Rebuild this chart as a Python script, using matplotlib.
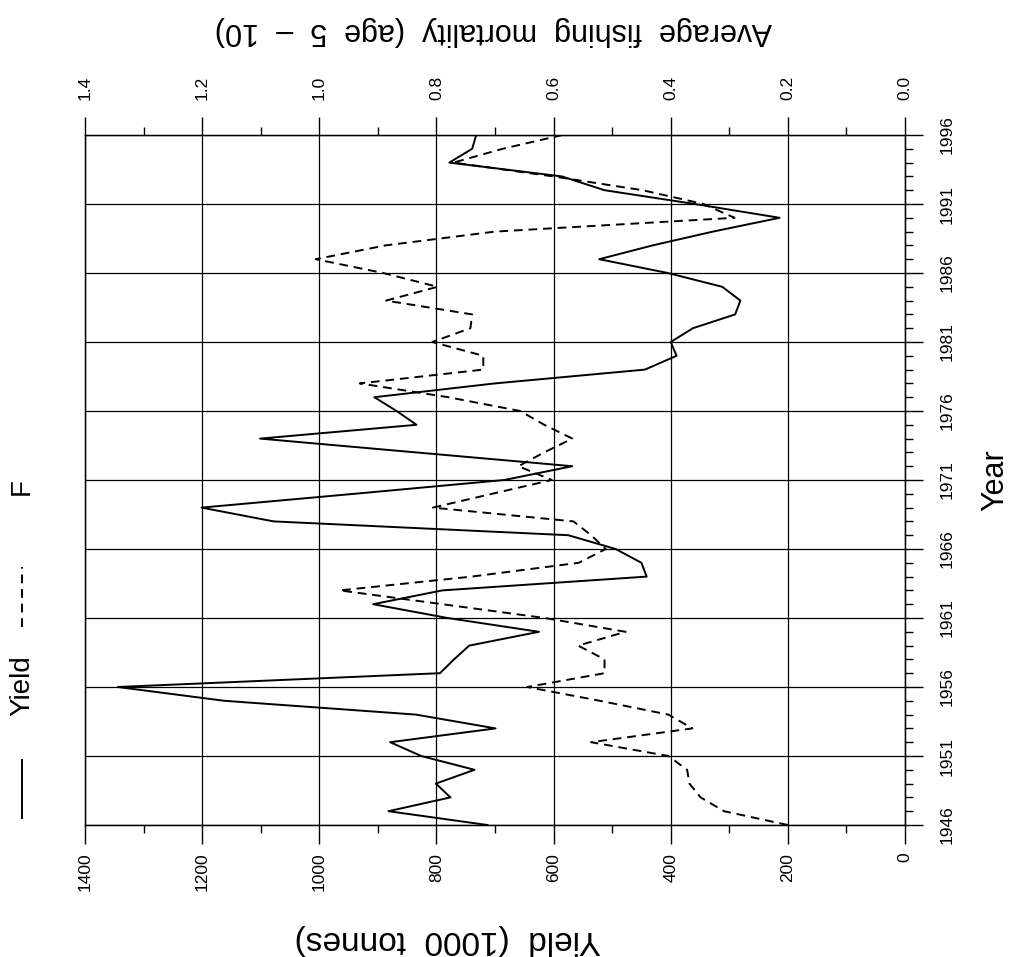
import matplotlib
matplotlib.use('Agg')
from matplotlib import pyplot as plt
from matplotlib.lines import Line2D

W, H = 1018, 957

years = list(range(1946, 1997))
yield_kt = [713, 882, 776, 801, 735, 826, 879, 699, 835, 1162,
            1344, 794, 770, 744, 625, 781, 908, 790, 441, 450,
            494, 575, 1078, 1201, 940, 684, 568, 835, 1101, 834,
            868, 906, 700, 444, 390, 400, 362, 290, 281, 312,
            405, 522, 431, 328, 214, 359, 513, 586, 778, 739, 732]
fishing_f = [0.200, 0.309, 0.349, 0.368, 0.372, 0.404, 0.536, 0.363, 0.404, 0.521,
             0.645, 0.513, 0.513, 0.558, 0.477, 0.615, 0.790, 0.965, 0.740, 0.557,
             0.511, 0.536, 0.566, 0.806, 0.705, 0.603, 0.660, 0.616, 0.568, 0.616,
             0.657, 0.780, 0.931, 0.720, 0.720, 0.807, 0.742, 0.739, 0.886, 0.798,
             0.891, 1.006, 0.887, 0.700, 0.291, 0.344, 0.448, 0.601, 0.771, 0.687, 0.585]

yield_ticks = [0, 200, 400, 600, 800, 1000, 1200, 1400]
f_ticks = [0.0, 0.2, 0.4, 0.6, 0.8, 1.0, 1.2, 1.4]
f_ticklabels = ['0.0', '0.2', '0.4', '0.6', '0.8', '1.0', '1.2', '1.4']
year_ticks = [1946, 1951, 1956, 1961, 1966, 1971, 1976, 1981, 1986, 1991, 1996]

plt.rcParams['font.family'] = ['Liberation Sans', 'DejaVu Sans']

fig = plt.figure(figsize=(W / 100, H / 100), dpi=100)
# the page is scanned sideways: yield runs right to left, years run upward
ax = fig.add_axes([85 / W, 1 - 825 / H, 820 / W, 690 / H])
ax.plot(yield_kt, years, color='black', lw=1.4)
ax.set_xlim(1400, 0)
ax.set_ylim(1946, 1996)
ax.set_xticks(yield_ticks)
ax.set_xticks(range(100, 1400, 200), minor=True)
ax.set_xticklabels([str(v) for v in yield_ticks], rotation=90)
ax.set_yticks(year_ticks)
ax.set_yticks(years, minor=True)
ax.set_yticklabels([str(y) for y in year_ticks], rotation=90, va='center')
ax.yaxis.tick_right()
ax.tick_params(axis='x', which='major', direction='out', length=14, width=1, pad=6, labelsize=12.5)
ax.tick_params(axis='x', which='minor', direction='out', length=6, width=1)
ax.tick_params(axis='y', which='major', direction='out', length=13, width=1, pad=12, labelsize=12.5)
ax.tick_params(axis='y', which='minor', direction='out', length=6, width=1)
ax.grid(True, which='major', color='black', lw=0.9)
for s in ax.spines.values():
    s.set_linewidth(1.0)

ax2 = ax.twiny()
ax2.plot(fishing_f, years, color='black', lw=1.4, dashes=(4.5, 3))
ax2.set_xlim(1.4, 0)
ax2.set_xticks(f_ticks)
ax2.set_xticks([0.1, 0.3, 0.5, 0.7, 0.9, 1.1, 1.3], minor=True)
ax2.set_xticklabels(f_ticklabels, rotation=90)
ax2.tick_params(axis='x', which='major', direction='out', length=13, width=1, pad=12, labelsize=12.5)
ax2.tick_params(axis='x', which='minor', direction='out', length=6, width=1)

fig.text(448 / W, 1 - 940 / H, 'Yield  (1000  tonnes)', rotation=180, fontsize=24,
         ha='center', va='center')
fig.text(493 / W, 1 - 31 / H, 'Average  fishing  mortality  (age  5  \u2013  10)', rotation=180,
         fontsize=22, ha='center', va='center')
fig.text(995 / W, 1 - 480 / H, 'Year', rotation=90, fontsize=22, ha='center', va='center')

# legend drawn sideways along the left edge
fig.add_artist(Line2D([22 / W, 22 / W], [1 - 818 / H, 1 - 760 / H], color='black', lw=1.4))
fig.text(22 / W, 1 - 686 / H, 'Yield', rotation=90, fontsize=20, ha='center', va='center')
fig.add_artist(Line2D([22 / W, 22 / W], [1 - 627 / H, 1 - 567 / H], color='black', lw=1.4,
                      dashes=(4.5, 3)))
fig.text(22 / W, 1 - 487 / H, 'F', rotation=90, fontsize=20, ha='center', va='center')

plt.savefig('out.png', dpi=100)
